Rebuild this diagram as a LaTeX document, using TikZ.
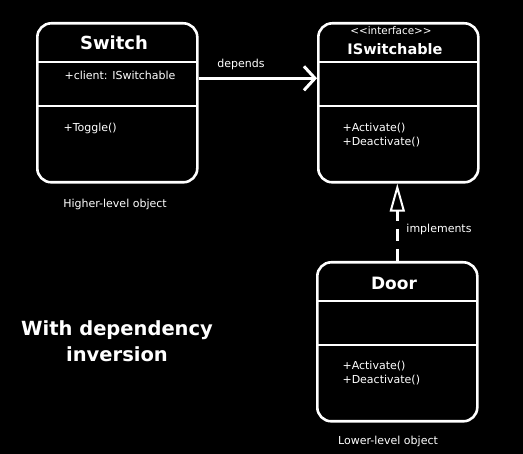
\documentclass[tikz,border=0pt]{standalone}
\usepackage{fontspec}
\setmainfont{DejaVu Sans}
\usetikzlibrary{arrows.meta}
\begin{document}
\begin{tikzpicture}[x=1pt,y=-1pt,
  box/.style={draw=white, line width=2.6pt, rounded corners=14pt, anchor=north west, inner sep=0pt, minimum width=160pt, minimum height=159pt},
  sep/.style={draw=white, line width=1.2pt},
  title/.style={text=white, font=\bfseries\fontsize{18}{20}\selectfont},
  stereo/.style={text=white, font=\fontsize{10.4}{12}\selectfont},
  member/.style={text=white, anchor=west, align=left, font=\fontsize{11}{14}\selectfont},
  caption/.style={text=white, font=\fontsize{11}{12}\selectfont},
  big/.style={text=white, align=center, font=\bfseries\fontsize{19.5}{26}\selectfont}]
\fill[black] (0,0) rectangle (523,454);
% Switch
\node[box] (sw) at (36,22) {};
\draw[sep] (36,62) -- (196,62);
\draw[sep] (36,106) -- (196,106);
\node[title] (swt) at (114,43) {Switch};
\node[member] (swa) at (61,75) {+client: ISwitchable};
\node[member] (swm) at (60,128) {+Toggle()};
\node[caption] (hl) at (115,204) {Higher-level object};
% ISwitchable
\node[box] (isw) at (317,22) {};
\draw[sep] (317,62) -- (477,62);
\draw[sep] (317,106) -- (477,106);
\node[stereo] (iss) at (391,31) {<\kern0pt<interface>\kern0pt>};
\node[title, font=\bfseries\fontsize{14.5}{16}\selectfont] (ist) at (395,49) {ISwitchable};
\node[member] (ism) at (339,135) {+Activate()\\+Deactivate()};
% Door
\node[box] (door) at (316,261) {};
\draw[sep] (316,301) -- (476,301);
\draw[sep] (316,345) -- (476,345);
\node[title, font=\bfseries\fontsize{17}{19}\selectfont] (dt) at (394,283) {Door};
\node[member] (dm) at (339,373) {+Activate()\\+Deactivate()};
\node[caption] (ll) at (388,441) {Lower-level object};
% connectors
\draw[white, line width=3pt, -{Straight Barb[length=11pt, width=24pt, line width=3pt]}]
  ([yshift=24.5pt]sw.east) -- ([yshift=24.5pt]isw.west);
\node[caption] (dep) at (241,64) {depends};
\draw[white, line width=3pt, dash pattern=on 12pt off 8pt,
  -{Triangle[open, length=28pt, width=15pt, line width=2pt]}]
  (door.north) -- (door.north |- isw.south);
\node[caption] (imp) at (439,229) {implements};
% title
\node[big] (ttl) at (117,341) {With dependency\\inversion};
\end{tikzpicture}
\end{document}
